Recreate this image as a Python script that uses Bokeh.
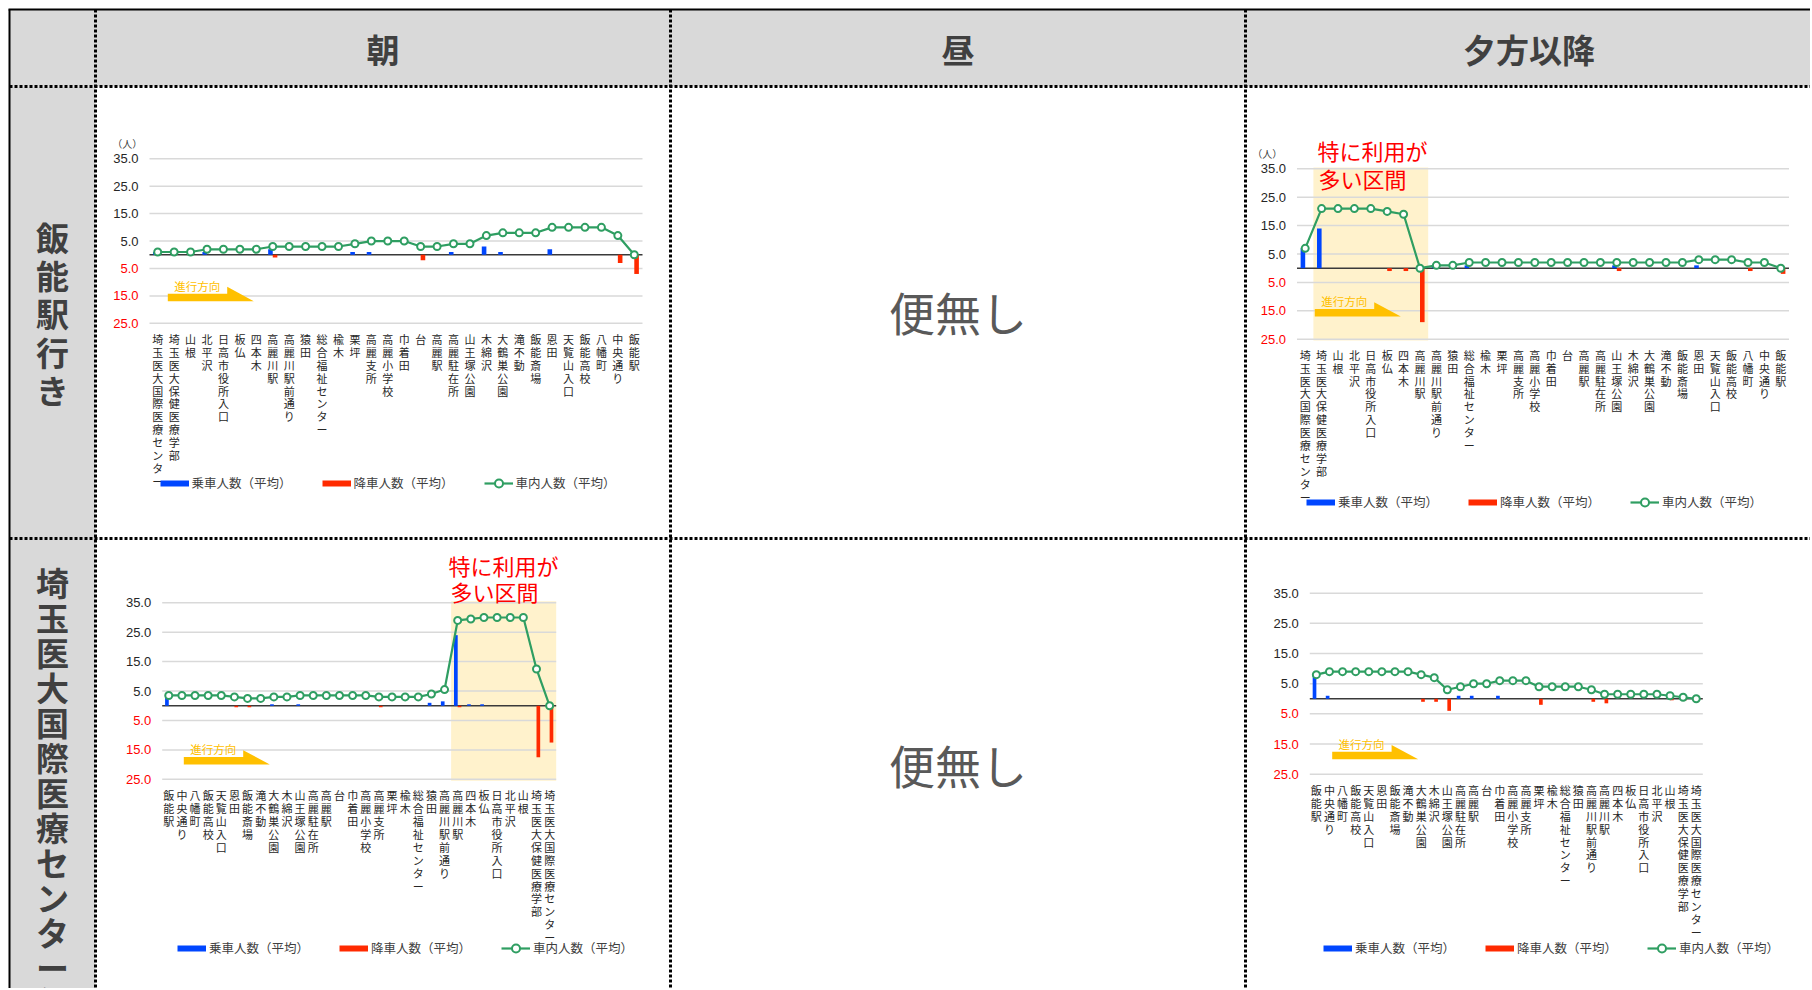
import numpy as np
from bokeh.plotting import figure
from bokeh.models import Range1d, Legend, LegendItem
from bokeh.core.properties import value
from bokeh.embed import file_html
from bokeh.resources import INLINE

# ---------------- data ----------------
col_headers = ["朝", "昼", "夕方以降"]
row_headers = ["飯能駅行き", "埼玉医大国際医療センター行き"]
no_service = "便無し"

stops_to_hanno = ["埼玉医大国際医療センター", "埼玉医大保健医療学部", "山根", "北平沢", "日高市役所入口",
                  "板仏", "四本木", "高麗川駅", "高麗川駅前通り", "猿田", "総合福祉センター", "楡木",
                  "栗坪", "高麗支所", "高麗小学校", "巾着田", "台", "高麗駅", "高麗駐在所", "山王塚公園",
                  "木綿沢", "大鶴巣公園", "滝不動", "飯能斎場", "恩田", "天覧山入口", "飯能高校",
                  "八幡町", "中央通り", "飯能駅"]
stops_to_saitama = ["飯能駅", "中央通り", "八幡町", "飯能高校", "天覧山入口", "恩田", "飯能斎場",
                    "滝不動", "大鶴巣公園", "木綿沢", "山王塚公園", "高麗駐在所", "高麗駅", "台",
                    "巾着田", "高麗小学校", "高麗支所", "栗坪", "楡木", "総合福祉センター", "猿田",
                    "高麗川駅前通り", "高麗川駅", "四本木", "板仏", "日高市役所入口", "北平沢", "山根",
                    "埼玉医大保健医療学部", "埼玉医大国際医療センター"]

# 朝・飯能駅行き
asa_hanno_board = [1, 0, 0, 1, 0, 0, 0, 2, 0, 0, 0, 0, 1, 1, 0, 0, 0, 0, 1, 0, 3, 1, 0, 0, 2, 0, 0, 0, 0, 0]
asa_hanno_alight = [0, 0, 0, 0, 0, 0, 0, 1, 0, 0, 0, 0, 0, 0, 0, 0, 2, 0, 0, 0, 0, 0, 0, 0, 0, 0, 0, 0, 3, 7]
asa_hanno_onboard = [1, 1, 1, 2, 2, 2, 2, 3, 3, 3, 3, 3, 4, 5, 5, 5, 3, 3, 4, 4, 7, 8, 8, 8, 10, 10, 10, 10, 7, 0]

# 夕方以降・飯能駅行き
yu_hanno_board = [7, 14, 0, 0, 0, 0, 0, 0, 1, 0, 1, 0, 0, 0, 0, 0, 0, 0, 0, 1, 0, 0, 0, 0, 1, 0, 0, 0, 0, 0]
yu_hanno_alight = [0, 0, 0, 0, 0, 1, 1, 19, 0, 0, 0, 0, 0, 0, 0, 0, 0, 0, 0, 1, 0, 0, 0, 0, 0, 0, 0, 1, 0, 2]
yu_hanno_onboard = [7, 21, 21, 21, 21, 20, 19, 0, 1, 1, 2, 2, 2, 2, 2, 2, 2, 2, 2, 2, 2, 2, 2, 2, 3, 3, 3, 2, 2, 0]

# 朝・埼玉医大国際医療センター行き
asa_saitama_board = [3.5, 0, 0, 0, 0, 0, 0, 0, 0.5, 0, 0.5, 0, 0, 0, 0, 0, 0, 0, 0, 0, 1.0, 1.5, 24.0, 0.5, 0.5,
                     0, 0, 0, 0, 0]
asa_saitama_alight = [0, 0, 0, 0, 0, 0.5, 0.5, 0, 0, 0, 0, 0, 0, 0, 0, 0, 0.5, 0, 0, 0, 0, 0, 0.5, 0, 0, 0, 0, 0,
                      17.5, 12.5]
asa_saitama_onboard = [3.5, 3.5, 3.5, 3.5, 3.5, 3.0, 2.5, 2.5, 3.0, 3.0, 3.5, 3.5, 3.5, 3.5, 3.5, 3.5, 3.0, 3.0,
                       3.0, 3.0, 4.0, 5.5, 29.0, 29.5, 30.0, 30.0, 30.0, 30.0, 12.5, 0]

# 夕方以降・埼玉医大国際医療センター行き
yu_saitama_board = [8, 1, 0, 0, 0, 0, 0, 0, 0, 0, 0, 1, 1, 0, 1, 0, 0, 0, 0, 0, 0, 0, 0, 0, 0, 0, 0, 0, 0, 0]
yu_saitama_alight = [0, 0, 0, 0, 0, 0, 0, 0, 1, 1, 4, 0, 0, 0, 0, 0, 0, 2, 0, 0, 0, 1, 1.5, 0, 0, 0, 0, 0.5,
                     0.5, 0.5]
yu_saitama_onboard = [8, 9, 9, 9, 9, 9, 9, 9, 8, 7, 3, 4, 5, 5, 6, 6, 6, 4, 4, 4, 4, 3, 1.5, 1.5, 1.5, 1.5, 1.5,
                      1, 0.5, 0]

y_ticks = [-25, -15, -5, 5, 15, 25, 35]
y_tick_labels = ["25.0", "15.0", "5.0", "5.0", "15.0", "25.0", "35.0"]
series_names = ["乗車人数（平均）", "降車人数（平均）", "車内人数（平均）"]
unit_text = "（人）"
highlight_text = ["特に利用が", "多い区間"]
direction_text = "進行方向"

# ---------------- styles ----------------
BLUE = "#0046ff"
RED = "#ff2a00"
GREEN = "#2f9e62"
GRID = "#d9d9d9"
ZERO = "#3a3a3a"
HL = "#fff2cc"
ARROW = "#ffc000"
GREY = "#d9d9d9"
JP = "Noto Sans CJK JP"
NUM = "Liberation Sans"

PW, PH = 1810, 988           # page figure size (pixels)
TX0, TY0 = 9, 9              # outer table corner
COL_X = [95, 670, 1245]      # vertical dividers
ROW_Y = [86, 538]            # horizontal dividers

p = figure(width=PW, height=PH, x_range=Range1d(0, PW), y_range=Range1d(PH, 0),
           x_axis_location=None, y_axis_location=None, toolbar_location=None,
           output_backend="svg", min_border=0)
p.grid.visible = False
p.outline_line_color = None
p.background_fill_color = "white"
p.border_fill_color = "white"

# ---------------- table frame ----------------
p.quad(left=TX0, right=PW, top=TY0, bottom=ROW_Y[0], fill_color=GREY, line_color=None)
p.quad(left=TX0, right=COL_X[0], top=ROW_Y[0], bottom=PH, fill_color=GREY, line_color=None)
for cx in COL_X:
    p.segment(x0=cx, y0=TY0, x1=cx, y1=PH, line_color="black", line_width=3, line_dash="3 2", line_cap="butt")
for ry in ROW_Y:
    p.segment(x0=TX0, y0=ry, x1=PW, y1=ry, line_color="black", line_width=3, line_dash="3 2", line_cap="butt")
p.segment(x0=TX0 - 1, y0=TY0, x1=PW, y1=TY0, line_color="black", line_width=2)
p.segment(x0=TX0, y0=TY0, x1=TX0, y1=PH, line_color="black", line_width=2)

hdr_x = [(COL_X[0] + COL_X[1]) / 2, (COL_X[1] + COL_X[2]) / 2, (COL_X[2] + 1812) / 2]
p.text(x=hdr_x, y=[48] * 3, text=col_headers, text_font=value(JP), text_font_style="bold",
       text_font_size="33px", text_color="#404040", text_align="center", text_baseline="middle")
p.text(x=[52], y=[212], text=["\n".join(row_headers[0])], text_font=value(JP),
       text_font_style="bold", text_font_size="33px", text_color="#404040", text_align="center",
       text_baseline="top", text_line_height=0.8)
p.text(x=[52], y=[557], text=["\n".join(row_headers[1])], text_font=value(JP),
       text_font_style="bold", text_font_size="33px", text_color="#404040", text_align="center",
       text_baseline="top", text_line_height=0.73)
p.text(x=[957.5, 957.5], y=[310, 763], text=[no_service] * 2, text_font=value(JP), text_font_size="46px",
       text_color="#595959", text_align="center", text_baseline="middle")


def chart(name, stops, board, alight, onboard, L, R, T, B, arrow_px, legend_x, legend_yc,
          hl=None):
    n = len(stops)
    ppx = (R - L) / n
    ppu = (B - T) / 61.0
    xs = -0.5 - L / ppx
    slope = -61.0 / (B - T)
    ye = 35.5 - T * slope
    ys = ye + PH * slope
    p.extra_x_ranges = {**p.extra_x_ranges, name + "x": Range1d(xs, xs + PW / ppx)}
    p.extra_y_ranges = {**p.extra_y_ranges, name + "y": Range1d(ys, ye)}
    kw = dict(x_range_name=name + "x", y_range_name=name + "y")
    idx = np.arange(n)

    if hl is not None:
        p.quad(left=hl[0] - 0.5, right=hl[1] + 0.5, bottom=-25.5, top=35.5, fill_color=HL,
               line_color=None, **kw)
    # grid lines and zero line
    p.segment(x0=[-0.5] * len(y_ticks), x1=[n - 0.5] * len(y_ticks), y0=y_ticks, y1=y_ticks,
              line_color=GRID, line_width=1.5, **kw)
    p.segment(x0=[-0.5], x1=[n - 0.5], y0=[0], y1=[0], line_color=ZERO, line_width=1.5, **kw)

    # direction arrow (fixed pixel size)
    y0px = T + 35.5 * ppu
    bl, bot = L + arrow_px[0], y0px + arrow_px[1]
    p.patch(x=[bl, bl + 59.4, bl + 59.4, bl + 86, bl], y=[bot - 7.4, bot - 7.4, bot - 14.3, bot, bot],
            fill_color=ARROW, line_color=None)
    p.text(x=[bl + 29.4], y=[bot - 15.5], text=[direction_text], text_font=value(JP),
           text_font_size="11.5px", text_color=ARROW, text_align="center", text_baseline="middle")

    # bars, line, markers
    p.vbar(x=idx - 0.14, top=board, bottom=0, width=0.28, fill_color=BLUE, line_color=None, **kw)
    p.vbar(x=idx + 0.14, top=-np.array(alight, dtype=float), bottom=0, width=0.28, fill_color=RED,
           line_color=None, **kw)
    lr = p.line(idx, onboard, line_color=GREEN, line_width=2.2, **kw)
    sr = p.scatter(idx, onboard, marker="circle", size=7, fill_color="white", line_color=GREEN,
                   line_width=2, **kw)

    # y tick labels (positive black, negative red)
    p.text(x=[-0.5] * len(y_ticks), y=y_ticks, text=y_tick_labels, x_offset=-11,
           text_color=["#ff0000" if t < 0 else "#262626" for t in y_ticks],
           text_font=value(NUM), text_font_size="13px", text_align="right", text_baseline="middle", **kw)
    # category labels, written vertically
    p.text(x=idx, y=[-25.5 - 6.0 / ppu] * n, text=["\n".join(s) for s in stops], text_font=value(JP),
           text_font_size="11px", text_line_height=0.81, text_color="#262626", text_align="center",
           text_baseline="top", **kw)

    # legend swatches (kept outside the visible page)
    lb = p.line([-300, -200], [-300, -300], line_color=BLUE, line_width=6)
    lrd = p.line([-300, -200], [-300, -300], line_color=RED, line_width=6)
    legend = Legend(items=[LegendItem(label=series_names[0], renderers=[lb]),
                           LegendItem(label=series_names[1], renderers=[lrd]),
                           LegendItem(label=series_names[2], renderers=[lr, sr])],
                    orientation="horizontal", location=(legend_x, PH - (legend_yc + 10)),
                    margin=0, padding=0, spacing=30, glyph_width=29, glyph_height=20, label_standoff=3,
                    label_text_font=JP, label_text_font_size="12.5px", label_text_color="#404040",
                    border_line_color=None, background_fill_alpha=0)
    p.add_layout(legend)


chart("c1", stops_to_hanno, asa_hanno_board, asa_hanno_alight, asa_hanno_onboard,
      149, 642, 156.9, 324.2, (18.3, 46.4), 159.5, 482.5)
chart("c2", stops_to_hanno, yu_hanno_board, yu_hanno_alight, yu_hanno_onboard,
      1296.5, 1788.5, 166.9, 340.1, (17.8, 48.3), 1306, 501.5, hl=(1, 7))
chart("c3", stops_to_saitama, asa_saitama_board, asa_saitama_alight, asa_saitama_onboard,
      161.7, 555.7, 600.8, 780.3, (21.6, 58.7), 177, 947.6, hl=(22, 29))
chart("c4", stops_to_saitama, yu_saitama_board, yu_saitama_alight, yu_saitama_onboard,
      1309.3, 1702.3, 591.2, 775.2, (22.4, 60.4), 1323, 947.6)

# unit labels and highlight notes
p.text(x=[126.7, 1266.7], y=[143, 153.3], text=[unit_text] * 2, text_font=value(JP), text_font_size="10px",
       text_color="#404040", text_align="center", text_baseline="middle")
p.text(x=[1317, 1318, 448, 450], y=[149, 177, 564, 590], text=highlight_text * 2, text_font=value(JP),
       text_font_size="22px", text_color="#ff0000", text_align="left", text_baseline="middle")

open("out.html", "w").write(file_html(p, INLINE))
